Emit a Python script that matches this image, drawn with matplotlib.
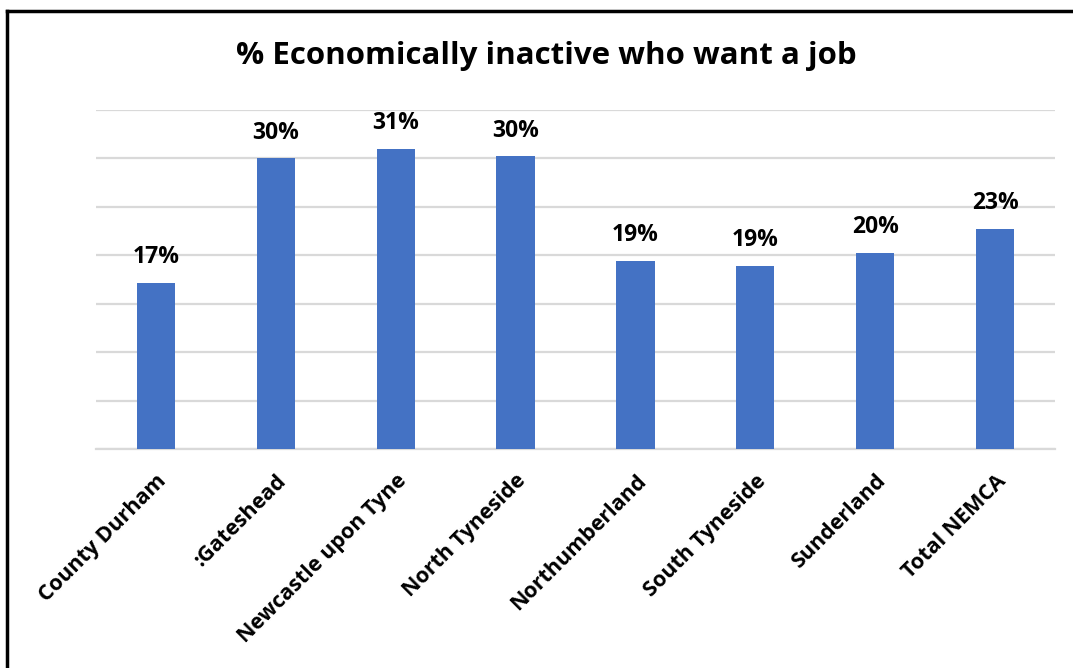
import matplotlib.pyplot as plt
import numpy as np
from matplotlib.lines import Line2D

plt.rcParams['font.family'] = ['Open Sans', 'DejaVu Sans']

areas = ['County Durham', ':Gateshead', 'Newcastle upon Tyne', 'North Tyneside',
         'Northumberland', 'South Tyneside', 'Sunderland', 'Total NEMCA']
pct = [17.1, 30.0, 31.0, 30.2, 19.4, 18.9, 20.2, 22.7]
bar_labels = ['17%', '30%', '31%', '30%', '19%', '19%', '20%', '23%']

fig = plt.figure(figsize=(10.73, 6.68), dpi=100)
ax = fig.add_axes([96/1073, 1 - 449/668, (1055-96)/1073, (449-110)/668])

x = np.arange(len(areas))
bars = ax.bar(x, pct, width=0.32, color='#4472C4', zorder=3)
ax.set_xlim(-0.5, len(areas) - 0.5)
ax.set_ylim(0, 35)
ax.set_yticks(np.arange(0, 36, 5))
ax.yaxis.grid(True, color='#D9D9D9', linewidth=1.6, zorder=0)
ax.tick_params(axis='y', left=False, labelleft=False)
ax.tick_params(axis='x', bottom=False, pad=12)
for s in ['top', 'right', 'left']:
    ax.spines[s].set_visible(False)
ax.spines['bottom'].set_color('#D9D9D9')
ax.spines['bottom'].set_linewidth(1.6)

ax.set_xticks(x)
ax.set_xticklabels(areas, rotation=45, ha='right', rotation_mode='anchor',
                   fontsize=15.5, fontweight='bold')

for b, lab in zip(bars, bar_labels):
    ax.annotate(lab, (b.get_x() + b.get_width() / 2, b.get_height()),
                xytext=(0, 10), textcoords='offset points', ha='center', va='bottom',
                fontsize=16.5, fontweight='bold')

fig.text(546/1073, 1 - 56/668, '% Economically inactive who want a job',
         ha='center', va='center', fontsize=22.5, fontweight='bold')

# frame edges (left and top)
fig.add_artist(Line2D([7/1073, 7/1073], [0, 1 - 11/668], color='black', linewidth=2.5,
                      transform=fig.transFigure))
fig.add_artist(Line2D([7/1073, 1], [1 - 11/668, 1 - 11/668], color='black', linewidth=2.5,
                      transform=fig.transFigure))

fig.savefig('out.png', dpi=100)
